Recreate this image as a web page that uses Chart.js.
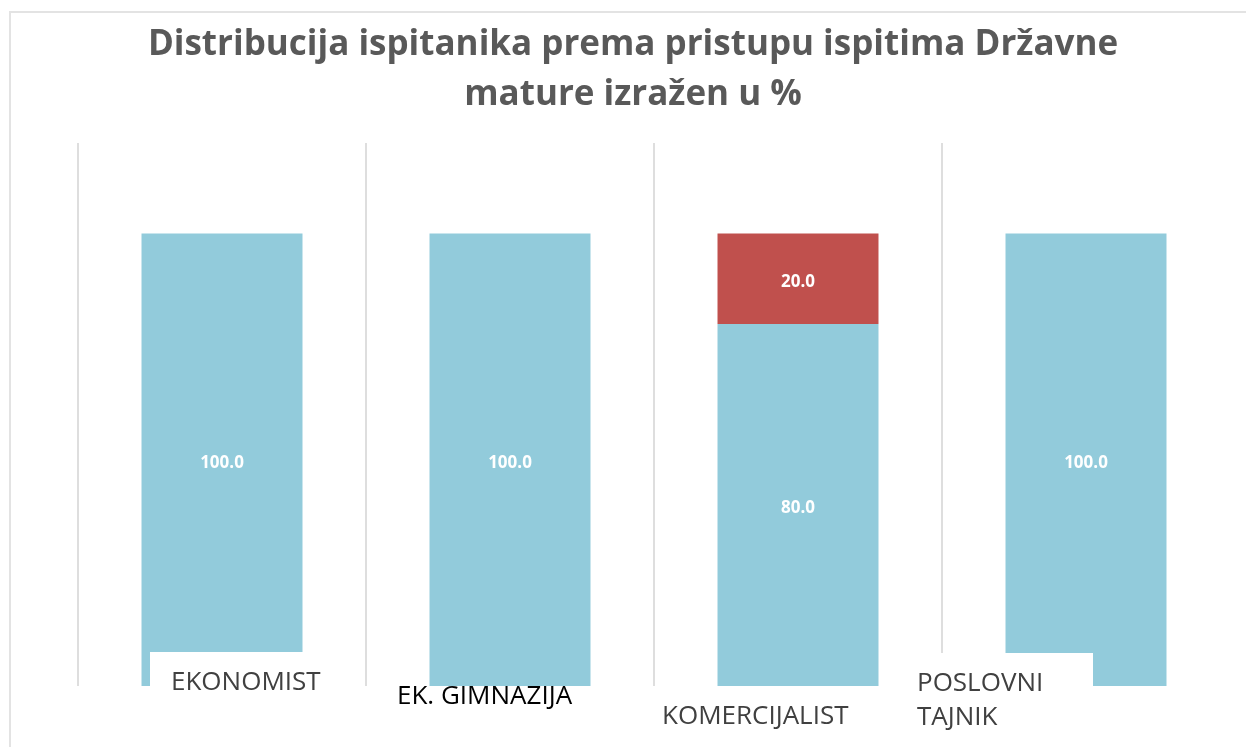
<!DOCTYPE html>
<html>
<head>
<meta charset="utf-8">
<script src="https://cdn.jsdelivr.net/npm/chart.js@4/dist/chart.umd.min.js"></script>
<style>
html,body{margin:0;padding:0;background:#fff;}
#wrap{width:1246px;height:747px;position:relative;}
</style>
</head>
<body>
<div id="wrap"><canvas id="c" width="1246" height="747"></canvas></div>
<script>
const categories = ["EKONOMIST", "EK. GIMNAZIJA", "KOMERCIJALIST", "POSLOVNI TAJNIK"];
const seriesBlue = [100.0, 100.0, 80.0, 100.0];
const seriesRed = [0, 0, 20.0, 0];
const titleLines = ["Distribucija ispitanika prema pristupu ispitima Državne", "mature izražen u %"];

// label layout (style only): offsets relative to category centre / plot bottom
const labelStyle = [
  {lines:["EKONOMIST"], color:"#404040", tx:-51, ty:[-3], box:{x0:-72,x1:100,y0:-34,y1:20}},
  {lines:["EK. GIMNAZIJA"], color:"#000000", tx:-113, ty:[11], box:null},
  {lines:["KOMERCIJALIST"], color:"#404040", tx:-136, ty:[31], box:null},
  {lines:["POSLOVNI","TAJNIK"], color:"#404040", tx:-169, ty:[-2,32], box:{x0:-181,x1:7,y0:-33,y1:50}}
];

const framePlugin = {
  id:'frame',
  beforeDraw(chart){
    const ctx = chart.ctx;
    ctx.save();
    ctx.fillStyle = '#fff';
    ctx.fillRect(0,0,chart.width,chart.height);
    ctx.strokeStyle = '#e3e3e3';
    ctx.lineWidth = 2;
    ctx.strokeRect(10, 12, chart.width + 50, chart.height + 50);
    // title, fitted to the original's line width
    ctx.fillStyle = '#595959';
    ctx.font = 'bold 32px "Open Sans"';
    const w = ctx.measureText(titleLines[0]).width;
    const size = Math.min(35.5, 32 * 970 / w);
    ctx.font = 'bold ' + size.toFixed(1) + 'px "Open Sans"';
    ctx.textAlign = 'center';
    ctx.textBaseline = 'middle';
    const cx = chart.chartArea.left + (chart.chartArea.right - chart.chartArea.left)/2 - 21;
    ctx.fillText(titleLines[0], cx, 45);
    ctx.fillText(titleLines[1], cx, 95);
    ctx.restore();
  }
};

const valueLabels = {
  id:'valueLabels',
  afterDatasetsDraw(chart){
    const ctx = chart.ctx;
    ctx.save();
    ctx.fillStyle = '#ffffff';
    ctx.font = 'bold 17px "Open Sans"';
    ctx.textAlign = 'center';
    ctx.textBaseline = 'middle';
    chart.data.datasets.forEach((ds, di) => {
      const meta = chart.getDatasetMeta(di);
      meta.data.forEach((bar, i) => {
        const v = ds.data[i];
        if (!v) return;
        const y = (bar.y + bar.base) / 2;
        ctx.fillText(v.toFixed(1), bar.x, y + 3);
      });
    });
    ctx.restore();
  }
};

const catLabels = {
  id:'catLabels',
  afterDraw(chart){
    const ctx = chart.ctx;
    const xs = chart.scales.x;
    const bottom = chart.chartArea.bottom;
    ctx.save();
    ctx.font = '26px "Open Sans"';
    ctx.textAlign = 'left';
    ctx.textBaseline = 'middle';
    categories.forEach((c, i) => {
      const st = labelStyle[i];
      const cx = xs.getPixelForValue(i);
      if (st.box) {
        ctx.fillStyle = '#ffffff';
        ctx.fillRect(cx + st.box.x0, bottom + st.box.y0, st.box.x1 - st.box.x0, st.box.y1 - st.box.y0);
      }
      ctx.fillStyle = st.color;
      st.lines.forEach((ln, k) => ctx.fillText(ln, cx + st.tx, bottom + st.ty[k]));
    });
    ctx.restore();
  }
};

new Chart(document.getElementById('c'), {
  type:'bar',
  data:{
    labels: categories,
    datasets:[
      {label:'Pristupili', data: seriesBlue, backgroundColor:'#92CBDB', categoryPercentage:1, barPercentage:0.559},
      {label:'Nisu pristupili', data: seriesRed, backgroundColor:'#C0504D', categoryPercentage:1, barPercentage:0.559}
    ]
  },
  options:{
    responsive:false,
    animation:false,
    layout:{padding:{left:78, right:16, top:143, bottom:61}},
    plugins:{legend:{display:false}, title:{display:false}, tooltip:{enabled:false}},
    scales:{
      x:{
        stacked:true,
        offset:true,
        border:{display:false},
        ticks:{display:false},
        grid:{offset:true, drawTicks:false, lineWidth:2,
          color:(ctx)=> (ctx.type !== 'tick' || ctx.index === undefined || ctx.index >= categories.length) ? 'rgba(0,0,0,0)' : '#dedede'}
      },
      y:{
        stacked:true, display:false, min:0, max:120
      }
    }
  },
  plugins:[framePlugin, valueLabels, catLabels]
});
</script>
</body>
</html>
